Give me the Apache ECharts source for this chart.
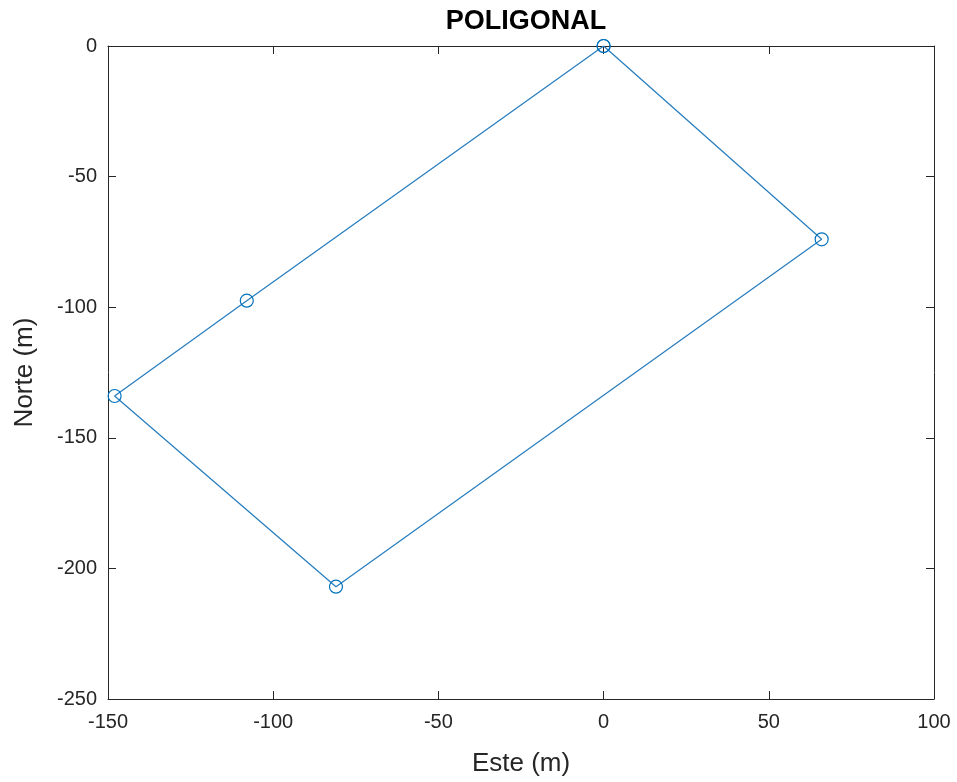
<!DOCTYPE html>
<html>
<head>
<meta charset="utf-8">
<script src="https://cdn.jsdelivr.net/npm/echarts@6/dist/echarts.min.js"></script>
<style>
html,body{margin:0;padding:0;background:#fff;}
#chart{width:957px;height:782px;}
</style>
</head>
<body>
<div id="chart"></div>
<script>
const este = [0, 66, -81, -148, -108, 0];
const norte = [0, -74, -207, -134, -97.5, 0];
const xTicks = [-150, -100, -50, 0, 50, 100];
const yTicks = [-250, -200, -150, -100, -50, 0];

const chart = echarts.init(document.getElementById('chart'));
const axisColor = '#262626';
const font = 'Liberation Sans, Arial, sans-serif';
const pts = este.map((e, i) => [e, norte[i]]);

function baseAxis(show) {
  return {
    axisLine: {show: true, onZero: false, lineStyle: {color: axisColor, width: 1}},
    axisTick: {show: true, inside: true, length: 8, lineStyle: {color: axisColor}},
    axisLabel: {show: show, color: axisColor, fontSize: 20, fontFamily: font},
    splitLine: {show: false}
  };
}

chart.setOption({
  backgroundColor: '#fff',
  animation: false,
  title: {
    text: 'POLIGONAL',
    left: 521, top: 3, textAlign: 'center',
    textStyle: {fontSize: 27, fontWeight: 'bold', color: '#000', fontFamily: font}
  },
  grid: {left: 108, right: 23, top: 46, bottom: 83, containLabel: false},
  xAxis: [
    Object.assign(baseAxis(true), {
      type: 'value', position: 'bottom', min: xTicks[0], max: xTicks[xTicks.length - 1], interval: 50,
      name: 'Este (m)', nameLocation: 'middle', nameGap: 52,
      nameTextStyle: {fontSize: 26, color: axisColor, fontFamily: font},
      axisLabel: {show: true, color: axisColor, fontSize: 20, fontFamily: font, margin: 13}
    }),
    Object.assign(baseAxis(false), {
      type: 'value', position: 'top', min: xTicks[0], max: xTicks[xTicks.length - 1], interval: 50
    })
  ],
  yAxis: [
    Object.assign(baseAxis(true), {
      type: 'value', position: 'left', min: yTicks[0], max: yTicks[yTicks.length - 1], interval: 50,
      name: 'Norte (m)', nameLocation: 'middle', nameGap: 70,
      nameTextStyle: {fontSize: 26, color: axisColor, fontFamily: font},
      axisLabel: {show: true, color: axisColor, fontSize: 20, fontFamily: font, margin: 11}
    }),
    Object.assign(baseAxis(false), {
      type: 'value', position: 'right', min: yTicks[0], max: yTicks[yTicks.length - 1], interval: 50
    })
  ],
  series: [{
    type: 'line',
    data: pts,
    xAxisIndex: 0, yAxisIndex: 0,
    symbol: 'circle',
    symbolSize: 13,
    showAllSymbol: true,
    itemStyle: {color: 'rgba(0,0,0,0)', borderColor: '#0072BD', borderWidth: 1.2},
    lineStyle: {color: '#2a7fbf', width: 1.3},
    emphasis: {disabled: true}
  }]
});
</script>
</body>
</html>
